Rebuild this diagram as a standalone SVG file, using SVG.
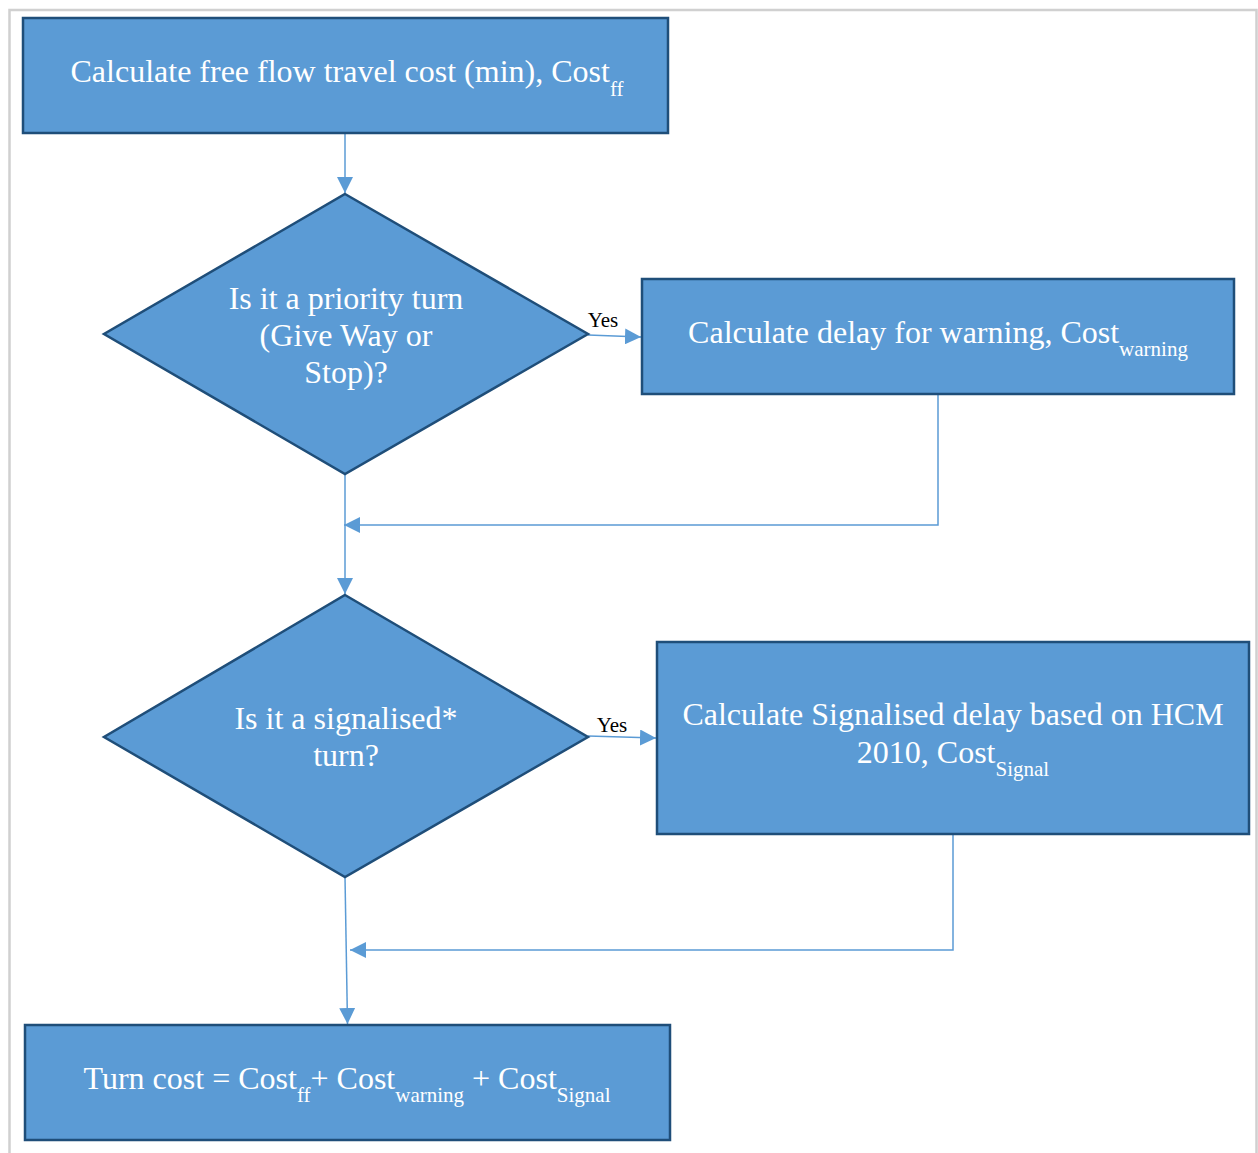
<svg xmlns="http://www.w3.org/2000/svg" width="1258" height="1153" viewBox="0 0 1258 1153">
<style>
.box{fill:#5b9bd5;stroke:#1f4e79;stroke-width:2.5}
.t{font-family:"Liberation Serif","Times New Roman",serif;font-size:32px;fill:#ffffff;text-anchor:middle}
.s{font-size:21px}
.lbl{font-family:"Liberation Serif","Times New Roman",serif;font-size:21px;fill:#000000;text-anchor:middle}
.c{fill:none;stroke:#5b9bd5;stroke-width:1.5}
</style>
<defs>
<marker id="ah2" viewBox="0 0 16 16" refX="16" refY="8" markerWidth="16" markerHeight="16" markerUnits="userSpaceOnUse" orient="auto">
<path d="M0,0 L16,8 L0,16 z" fill="#5b9bd5"/>
</marker>
</defs>
<rect x="0" y="0" width="1258" height="1153" fill="#ffffff"/>
<g id="frame">
<path d="M9.5,1153 L9.5,10 L1256.5,10 L1256.5,1153" fill="none" stroke="#d0d0d0" stroke-width="2.5"/>
</g>
<g id="connectors">
<line class="c" x1="345" y1="133" x2="345" y2="193" marker-end="url(#ah2)"/>
<polyline class="c" points="588,335 641,337" marker-end="url(#ah2)"/>
<polyline class="c" points="938,394 938,525 344,525" marker-end="url(#ah2)"/>
<line class="c" x1="345" y1="474" x2="345" y2="594" marker-end="url(#ah2)"/>
<polyline class="c" points="588,736 656,738" marker-end="url(#ah2)"/>
<polyline class="c" points="953,834 953,950 350,950" marker-end="url(#ah2)"/>
<line class="c" x1="345" y1="877" x2="347.5" y2="1024" marker-end="url(#ah2)"/>
<text class="lbl" x="603" y="327">Yes</text>
<text class="lbl" x="612" y="732">Yes</text>
</g>
<g id="n1">
<rect class="box" x="23" y="18" width="645" height="115"/>
<text class="t" x="347" y="82">Calculate free flow travel cost (min), Cost<tspan class="s" dy="14">ff</tspan></text>
</g>
<g id="n2">
<polygon class="box" points="345,194 588,334 345,474 104,334"/>
<text class="t" x="346" y="309">Is it a priority turn</text>
<text class="t" x="346" y="346">(Give Way or</text>
<text class="t" x="346" y="383">Stop)?</text>
</g>
<g id="n3">
<rect class="box" x="642" y="279" width="592" height="115"/>
<text class="t" x="938" y="343">Calculate delay for warning, Cost<tspan class="s" dy="13">warning</tspan></text>
</g>
<g id="n4">
<polygon class="box" points="345,595 588,737 345,877 104,737"/>
<text class="t" x="346" y="729">Is it a signalised*</text>
<text class="t" x="346" y="766">turn?</text>
</g>
<g id="n5">
<rect class="box" x="657" y="642" width="592" height="192"/>
<text class="t" x="953" y="725">Calculate Signalised delay based on HCM</text>
<text class="t" x="953" y="763">2010, Cost<tspan class="s" dy="13">Signal</tspan></text>
</g>
<g id="n6">
<rect class="box" x="25" y="1025" width="645" height="115"/>
<text class="t" x="347" y="1089">Turn cost = Cost<tspan class="s" dy="13">ff</tspan><tspan dy="-13">+ Cost</tspan><tspan class="s" dy="13">warning</tspan><tspan dy="-13"> + Cost</tspan><tspan class="s" dy="13">Signal</tspan></text>
</g>
</svg>
